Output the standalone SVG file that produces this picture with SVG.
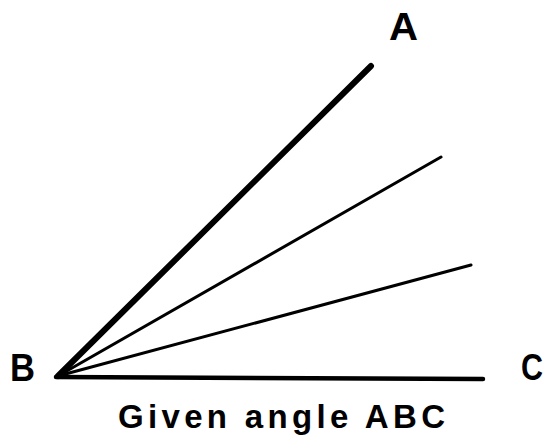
<svg xmlns="http://www.w3.org/2000/svg" width="547" height="441" viewBox="0 0 547 441">
<style>
.ray{stroke:#000;fill:none;stroke-linecap:round}
.lbl{font-family:"Liberation Sans",Arial,sans-serif;font-weight:bold;fill:#000}
</style>
<rect width="547" height="441" fill="#fff"/>
<g id="rays">
<line class="ray" x1="58" y1="376" x2="371" y2="66" stroke-width="6"/>
<line class="ray" x1="58" y1="376" x2="441" y2="157" stroke-width="3"/>
<line class="ray" x1="58" y1="376" x2="471" y2="265" stroke-width="3"/>
<line class="ray" x1="56" y1="377" x2="483" y2="379" stroke-width="4.5"/>
</g>
<g id="A"><text class="lbl" x="389" y="40" font-size="38" textLength="29" lengthAdjust="spacingAndGlyphs">A</text></g>
<g id="B"><text class="lbl" x="10" y="381" font-size="38" textLength="25" lengthAdjust="spacingAndGlyphs">B</text></g>
<g id="C"><text class="lbl" x="521" y="380" font-size="36" textLength="22" lengthAdjust="spacingAndGlyphs">C</text></g>
<g id="caption"><text class="lbl" x="118" y="428" font-size="33" textLength="327" lengthAdjust="spacing">Given angle ABC</text></g>
</svg>
